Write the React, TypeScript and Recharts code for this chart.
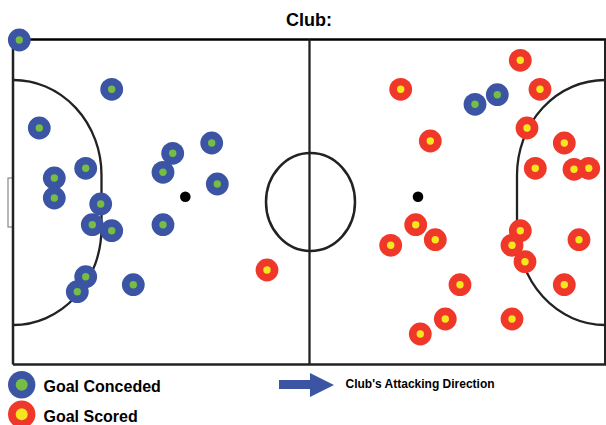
import { ReferenceLine, Scatter, ScatterChart, XAxis, YAxis } from 'recharts';

const WIDTH = 606;
const HEIGHT = 425;

type Pt = { x: number; y: number };
const pts = (rows: number[][]): Pt[] => rows.map(([x, y]) => ({ x, y }));

const concededGoals = pts([
  [19.3, 40], [111.7, 89.3], [39.3, 128], [211.7, 143], [172.7, 153.3], [163, 172.3],
  [217.3, 184], [85.7, 168.3], [54.3, 178], [54.3, 198], [100.7, 204], [111.7, 230.7],
  [92.3, 224.7], [163, 224.7], [85.7, 276.7], [77.3, 291.7], [133.3, 284.7],
  [475, 104.3], [497.3, 94.7],
]);

const scoredGoals = pts([
  [267, 270], [520.3, 60.3], [400.7, 89.3], [540, 89.3], [527, 128], [430.3, 141],
  [564.3, 143], [535.3, 168.3], [588.7, 168.3], [574, 169.3], [415.7, 224.7], [435.3, 239.7],
  [390.7, 245.3], [520.3, 230.7], [512, 245.3], [525, 261.7], [579, 239.7], [460, 284.7],
  [564.3, 284.7], [445.3, 319], [512, 319], [420.3, 334],
]);

const penaltySpots = pts([[185.3, 196.7], [418, 196.7]]);
const legendConceded = pts([[21.7, 384.7]]);
const legendScored = pts([[21.7, 414.3]]);

const LINE = '#222222';
const BLUE = '#3B54A4';
const GREEN = '#76BD43';
const RED = '#EF3829';
const YELLOW = '#F5E61F';

function goalMark(outer: string, inner: string, r: number, dot: number) {
  return (props: any) => (
    <g>
      <circle cx={props.cx} cy={props.cy} r={r} fill={outer} />
      <circle cx={props.cx} cy={props.cy} r={dot} fill={inner} />
    </g>
  );
}

const spot = (props: any) => <circle cx={props.cx} cy={props.cy} r={5.3} fill="#000" />;

const labelFont = { fontFamily: 'Liberation Sans, Arial, sans-serif', fontWeight: 700, fill: '#000' };

export default function App() {
  return (
    <div style={{ position: 'absolute', left: 0, top: 0 }}>
      <ScatterChart width={WIDTH} height={HEIGHT} margin={{ top: 0, right: 0, bottom: 0, left: 0 }}>
        <XAxis type="number" dataKey="x" domain={[0, WIDTH]} hide />
        <YAxis type="number" dataKey="y" domain={[0, HEIGHT]} reversed hide />

        <rect x={8} y={178} width={5} height={49} fill="#fff" stroke="#888" strokeWidth={1.2} />
        <path
          d="M13 80 A88 95 0 0 1 101.5 175 L101.5 228 A88 97 0 0 1 13 325"
          fill="none" stroke={LINE} strokeWidth={2.3}
        />
        <path
          d="M605 80 A88 95 0 0 0 517 175 L517 228 A88 97 0 0 0 605 325"
          fill="none" stroke={LINE} strokeWidth={2.3}
        />
        <ellipse cx={310.5} cy={202} rx={44.5} ry={49} fill="none" stroke={LINE} strokeWidth={2.5} />

        <ReferenceLine segment={[{ x: 13, y: 39.5 }, { x: 606, y: 39.5 }]} stroke="#000" strokeWidth={2.5} />
        <ReferenceLine segment={[{ x: 13, y: 364.5 }, { x: 606, y: 364.5 }]} stroke={LINE} strokeWidth={2.5} />
        <ReferenceLine segment={[{ x: 13, y: 39.5 }, { x: 13, y: 364.5 }]} stroke={LINE} strokeWidth={2.5} />
        <ReferenceLine segment={[{ x: 605, y: 39.5 }, { x: 605, y: 364.5 }]} stroke={LINE} strokeWidth={2} />
        <ReferenceLine segment={[{ x: 309.5, y: 39.5 }, { x: 309.5, y: 364.5 }]} stroke={LINE} strokeWidth={2.3} />

        <Scatter data={penaltySpots} shape={spot} isAnimationActive={false} />
        <Scatter data={concededGoals} shape={goalMark(BLUE, GREEN, 11.4, 3.7)} isAnimationActive={false} />
        <Scatter data={scoredGoals} shape={goalMark(RED, YELLOW, 11.4, 3.7)} isAnimationActive={false} />
        <Scatter data={legendConceded} shape={goalMark(BLUE, GREEN, 13.7, 6)} isAnimationActive={false} />
        <Scatter data={legendScored} shape={goalMark(RED, YELLOW, 13.7, 6)} isAnimationActive={false} />

        <text x={309} y={26} textAnchor="middle" fontSize={18} {...labelFont}>Club:</text>
        <text x={43.5} y={392} fontSize={16} {...labelFont}>Goal Conceded</text>
        <text x={43.5} y={422} fontSize={16} {...labelFont}>Goal Scored</text>
        <text x={345.5} y={388} fontSize={12} {...labelFont}>Club's Attacking Direction</text>
        <polygon points="279,380 310,380 310,373 334,385 310,397 310,389 279,389" fill={BLUE} />
      </ScatterChart>
    </div>
  );
}
